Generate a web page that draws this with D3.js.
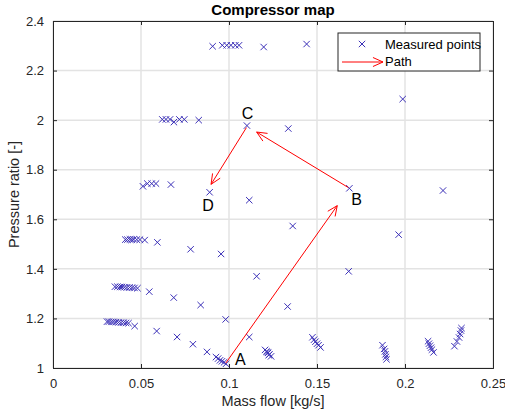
<!DOCTYPE html>
<html>
<head>
<meta charset="utf-8">
<script src="https://cdn.jsdelivr.net/npm/d3@7"></script>
<style>
  body { margin: 0; background: #fff; }
  svg { font-family: "Liberation Sans", Arial, sans-serif; }
</style>
</head>
<body>
<div id="chart"></div>
<script>
// measured points, [mass flow, pressure ratio]
var measured = [
  // ~2.3
  [0.0907,2.298],[0.0962,2.302],[0.0987,2.302],[0.1011,2.302],[0.1036,2.302],[0.1057,2.302],[0.1197,2.295],[0.1441,2.307],
  // ~2.0
  [0.0621,2.003],[0.0642,2.003],[0.0665,2.003],[0.0687,1.992],[0.0718,2.003],[0.0746,2.003],[0.0828,2.0],
  [0.1102,1.978],[0.1337,1.966],[0.1987,2.085],
  // ~1.74
  [0.0511,1.733],[0.0536,1.744],[0.0561,1.744],[0.0585,1.744],[0.0670,1.74],[0.0890,1.709],[0.1115,1.677],
  [0.1362,1.573],[0.1684,1.725],[0.2216,1.716],
  // ~1.52
  [0.0411,1.518],[0.0423,1.518],[0.0437,1.519],[0.0448,1.518],[0.0459,1.519],[0.0476,1.518],[0.0494,1.518],
  [0.0521,1.516],[0.0593,1.507],[0.0782,1.479],[0.0955,1.46],[0.1157,1.37],[0.1964,1.538],
  // ~1.33
  [0.0352,1.328],[0.0366,1.328],[0.0381,1.327],[0.0392,1.327],[0.0406,1.326],[0.0420,1.325],[0.0435,1.325],
  [0.0449,1.324],[0.0463,1.323],[0.0480,1.322],[0.0547,1.308],[0.0686,1.284],[0.0839,1.254],[0.0981,1.196],
  [0.1333,1.248],[0.1680,1.39],
  // ~1.19
  [0.0307,1.187],[0.0318,1.187],[0.0332,1.186],[0.0344,1.186],[0.0358,1.185],[0.0372,1.184],[0.0386,1.183],
  [0.0401,1.183],[0.0415,1.182],[0.0429,1.181],[0.0464,1.169],[0.0589,1.149],[0.0705,1.125],[0.0795,1.096],
  [0.0875,1.065],[0.1115,1.125],
  // clusters near 1.0 - 1.15
  [0.0926,1.044],[0.0938,1.038],[0.0949,1.031],[0.0960,1.027],[0.0972,1.023],[0.0983,1.017],
  [0.1205,1.073],[0.1213,1.067],[0.1222,1.061],[0.1230,1.055],[0.1239,1.047],[0.1218,1.064],[0.1226,1.052],
  [0.1474,1.124],[0.1483,1.114],[0.1491,1.106],[0.1500,1.098],[0.1509,1.092],[0.1520,1.083],
  [0.1872,1.092],[0.1881,1.077],[0.1886,1.067],[0.1889,1.055],[0.1892,1.045],[0.1895,1.035],
  [0.2131,1.108],[0.2136,1.098],[0.2142,1.090],[0.2148,1.082],[0.2153,1.074],[0.2162,1.063],
  [0.2281,1.088],[0.2295,1.107],[0.2307,1.123],[0.2313,1.137],[0.2318,1.151],[0.2321,1.161]
];

// path arrows: start -> end
var pathFrom = [[0.0982,1.020],[0.1678,1.728],[0.1099,1.970]];
var pathTo   = [[0.1615,1.655],[0.1157,1.952],[0.0898,1.741]];

var pointLabels = ["A","B","C","D"];
var labelPos = [[0.1064,1.013],[0.1725,1.656],[0.1105,2.006],[0.0881,1.632]];

var xTicks = [0, 0.05, 0.1, 0.15, 0.2, 0.25];
var yTicks = [1, 1.2, 1.4, 1.6, 1.8, 2, 2.2, 2.4];

var width = 505, height = 415;
var margin = {top: 21, right: 12, bottom: 47, left: 53};
var w = width - margin.left - margin.right,
    h = height - margin.top - margin.bottom;

var axisColor = "#262626", gridColor = "#e3e3e3";
var blue = "#3b30b8", red = "#ff0000";

var svg = d3.select("#chart").append("svg")
  .attr("width", width)
  .attr("height", height);

var g = svg.append("g")
  .attr("transform", "translate(" + margin.left + "," + margin.top + ")");

var x = d3.scaleLinear().domain([0, 0.25]).range([0, w]);
var y = d3.scaleLinear().domain([1, 2.4]).range([h, 0]);

// grid
g.append("g").selectAll("line.gx")
  .data(xTicks).enter().append("line")
  .attr("x1", function(d) { return x(d); }).attr("x2", function(d) { return x(d); })
  .attr("y1", 0).attr("y2", h)
  .attr("stroke", gridColor).attr("stroke-width", 1.5);
g.append("g").selectAll("line.gy")
  .data(yTicks).enter().append("line")
  .attr("y1", function(d) { return y(d); }).attr("y2", function(d) { return y(d); })
  .attr("x1", 0).attr("x2", w)
  .attr("stroke", gridColor).attr("stroke-width", 1.5);

// axes (ticks inward, matlab style box)
var fmt = function(d) { return d3.format("")(+d.toFixed(2)); };
var xAxis = g.append("g").attr("transform", "translate(0," + h + ")")
  .call(d3.axisBottom(x).tickValues(xTicks).tickSize(-4).tickPadding(11).tickFormat(fmt));
var xTop = g.append("g")
  .call(d3.axisTop(x).tickValues(xTicks).tickSize(-4).tickFormat(""));
var yAxis = g.append("g")
  .call(d3.axisLeft(y).tickValues(yTicks).tickSize(-4).tickPadding(9).tickFormat(fmt));
var yRight = g.append("g").attr("transform", "translate(" + w + ",0)")
  .call(d3.axisRight(y).tickValues(yTicks).tickSize(-4).tickFormat(""));

[xAxis, xTop, yAxis, yRight].forEach(function(a) {
  a.select(".domain").attr("stroke", axisColor);
  a.selectAll(".tick line").attr("stroke", axisColor);
  a.selectAll("text").attr("fill", axisColor)
    .style("font-size", "13px").style("font-family", "Liberation Sans, Arial, sans-serif");
});

// markers
function xMark(sel, s) {
  sel.append("path")
    .attr("d", "M" + (-s) + "," + (-s) + "L" + s + "," + s + "M" + (-s) + "," + s + "L" + s + "," + (-s))
    .attr("stroke", blue).attr("stroke-width", 1).attr("fill", "none");
}
var pts = g.append("g").selectAll("g")
  .data(measured).enter().append("g")
  .attr("transform", function(d) { return "translate(" + x(d[0]) + "," + y(d[1]) + ")"; });
xMark(pts, 3.2);

// arrows
function arrow(sel, x1, y1, x2, y2) {
  sel.append("line")
    .attr("x1", x1).attr("y1", y1).attr("x2", x2).attr("y2", y2)
    .attr("stroke", red).attr("stroke-width", 1);
  var ang = Math.atan2(y2 - y1, x2 - x1);
  var len = 11, spread = 0.42;
  [ang + Math.PI - spread, ang + Math.PI + spread].forEach(function(a) {
    sel.append("line")
      .attr("x1", x2).attr("y1", y2)
      .attr("x2", x2 + len * Math.cos(a)).attr("y2", y2 + len * Math.sin(a))
      .attr("stroke", red).attr("stroke-width", 1);
  });
}
var arrows = g.append("g");
pathFrom.forEach(function(p, i) {
  arrow(arrows, x(p[0]), y(p[1]), x(pathTo[i][0]), y(pathTo[i][1]));
});

// point labels
g.append("g").selectAll("text")
  .data(pointLabels).enter().append("text")
  .attr("x", function(d, i) { return x(labelPos[i][0]); })
  .attr("y", function(d, i) { return y(labelPos[i][1]); })
  .attr("text-anchor", "middle")
  .style("font-size", "16px")
  .attr("fill", "#000")
  .text(function(d) { return d; });

// title & axis labels
svg.append("text")
  .attr("x", margin.left + w / 2).attr("y", 14.5)
  .attr("text-anchor", "middle")
  .style("font-size", "15px").style("font-weight", "bold")
  .attr("fill", "#000")
  .text("Compressor map");

svg.append("text")
  .attr("x", margin.left + w / 2).attr("y", 406)
  .attr("text-anchor", "middle")
  .style("font-size", "14.5px")
  .attr("fill", axisColor)
  .text("Mass flow [kg/s]");

svg.append("text")
  .attr("transform", "translate(19," + (margin.top + h / 2) + ") rotate(-90)")
  .attr("text-anchor", "middle")
  .style("font-size", "14.5px")
  .attr("fill", axisColor)
  .text("Pressure ratio [-]");

// legend
var lg = svg.append("g").attr("transform", "translate(338,33)");
lg.append("rect")
  .attr("width", 142).attr("height", 38)
  .attr("fill", "#fff").attr("stroke", axisColor).attr("stroke-width", 1);
var lm = lg.append("g").attr("transform", "translate(24,11)");
xMark(lm, 3.2);
lg.append("text").attr("x", 47).attr("y", 16)
  .style("font-size", "13px").attr("fill", "#000").text("Measured points");
arrow(lg, 4, 29, 45, 29);
lg.append("text").attr("x", 47).attr("y", 33)
  .style("font-size", "13px").attr("fill", "#000").text("Path");
</script>
</body>
</html>
